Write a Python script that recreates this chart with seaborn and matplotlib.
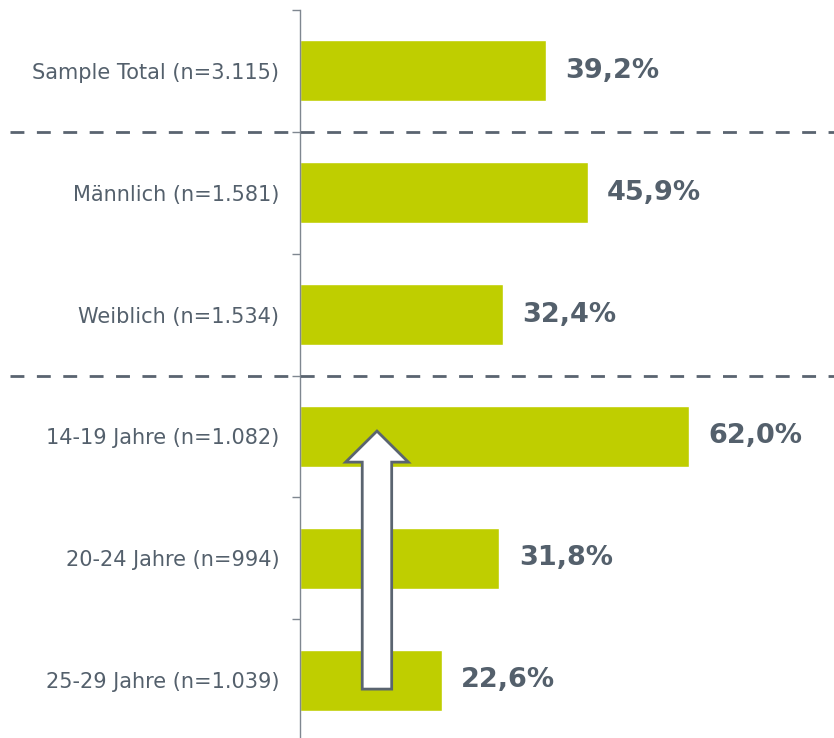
import matplotlib
matplotlib.use("Agg")
import matplotlib.pyplot as plt
import matplotlib.transforms as mtransforms
from matplotlib.patches import FancyArrow
import pandas as pd
import seaborn as sns

# Data
labels = ["Sample Total (n=3.115)", "Männlich (n=1.581)", "Weiblich (n=1.534)",
          "14-19 Jahre (n=1.082)", "20-24 Jahre (n=994)", "25-29 Jahre (n=1.039)"]
values = [39.2, 45.9, 32.4, 62.0, 31.8, 22.6]
group_breaks = [0.5, 2.5]   # dashed separators between groups

bar_color = "#BFCE00"
text_color = "#54606c"
line_color = "#5a6470"

sns.set_theme(style="white")
plt.rcParams['font.family'] = ['DejaVu Sans']

df = pd.DataFrame({"label": labels, "value": values})

fig = plt.figure(figsize=(8.34, 7.38), dpi=100)
ax = fig.add_axes([300 / 834, -3 / 738, 534 / 834, 731 / 738])

sns.barplot(data=df, x="value", y="label", orient="h", color=bar_color,
            saturation=1, width=0.5, ax=ax)

ax.set_xlim(0, 85.2)
ax.set_ylim(len(labels) - 0.5, -0.5)
ax.set_xlabel("")
ax.set_ylabel("")
ax.set_xticks([])

# Category labels at centres, small ticks at boundaries
ax.set_yticks(range(len(labels)))
ax.set_yticklabels(labels, color=text_color, fontsize=15)
ax.tick_params(axis="y", which="major", length=0, pad=15)
ax.set_yticks([i - 0.5 for i in range(len(labels))], minor=True)
ax.tick_params(axis="y", which="minor", length=6, width=1, color="#7f8790",
               direction="out", left=True)

for side in ["top", "right", "bottom"]:
    ax.spines[side].set_visible(False)
ax.spines["left"].set_color("#7f8790")
ax.spines["left"].set_linewidth(1)

# Value labels
for i, v in enumerate(values):
    ax.annotate(f"{v:.1f}%".replace(".", ","), xy=(v, i), xytext=(14, 0),
                textcoords="offset points", ha="left", va="center",
                fontsize=19.5, fontweight="bold", color=text_color)

# Dashed group separators, extending past the axis to the left
trans = mtransforms.blended_transform_factory(ax.transAxes, ax.transData)
for yb in group_breaks:
    ax.plot([-0.543, 1.0], [yb, yb], transform=trans, color=line_color,
            linestyle=(0, (5, 4.5)), linewidth=2, clip_on=False, zorder=5)

# Arrow from the oldest to the youngest age group
arrow_x = 12.28
y_start = len(labels) - 1 + 0.074
y_tip = 3 - 0.044
arrow = FancyArrow(arrow_x, y_start, 0, y_tip - y_start, width=4.7,
                   head_width=10.0, head_length=0.255,
                   length_includes_head=True, facecolor="white",
                   edgecolor=line_color, linewidth=2, zorder=6)
ax.add_patch(arrow)

fig.savefig("out.png", dpi=100)
